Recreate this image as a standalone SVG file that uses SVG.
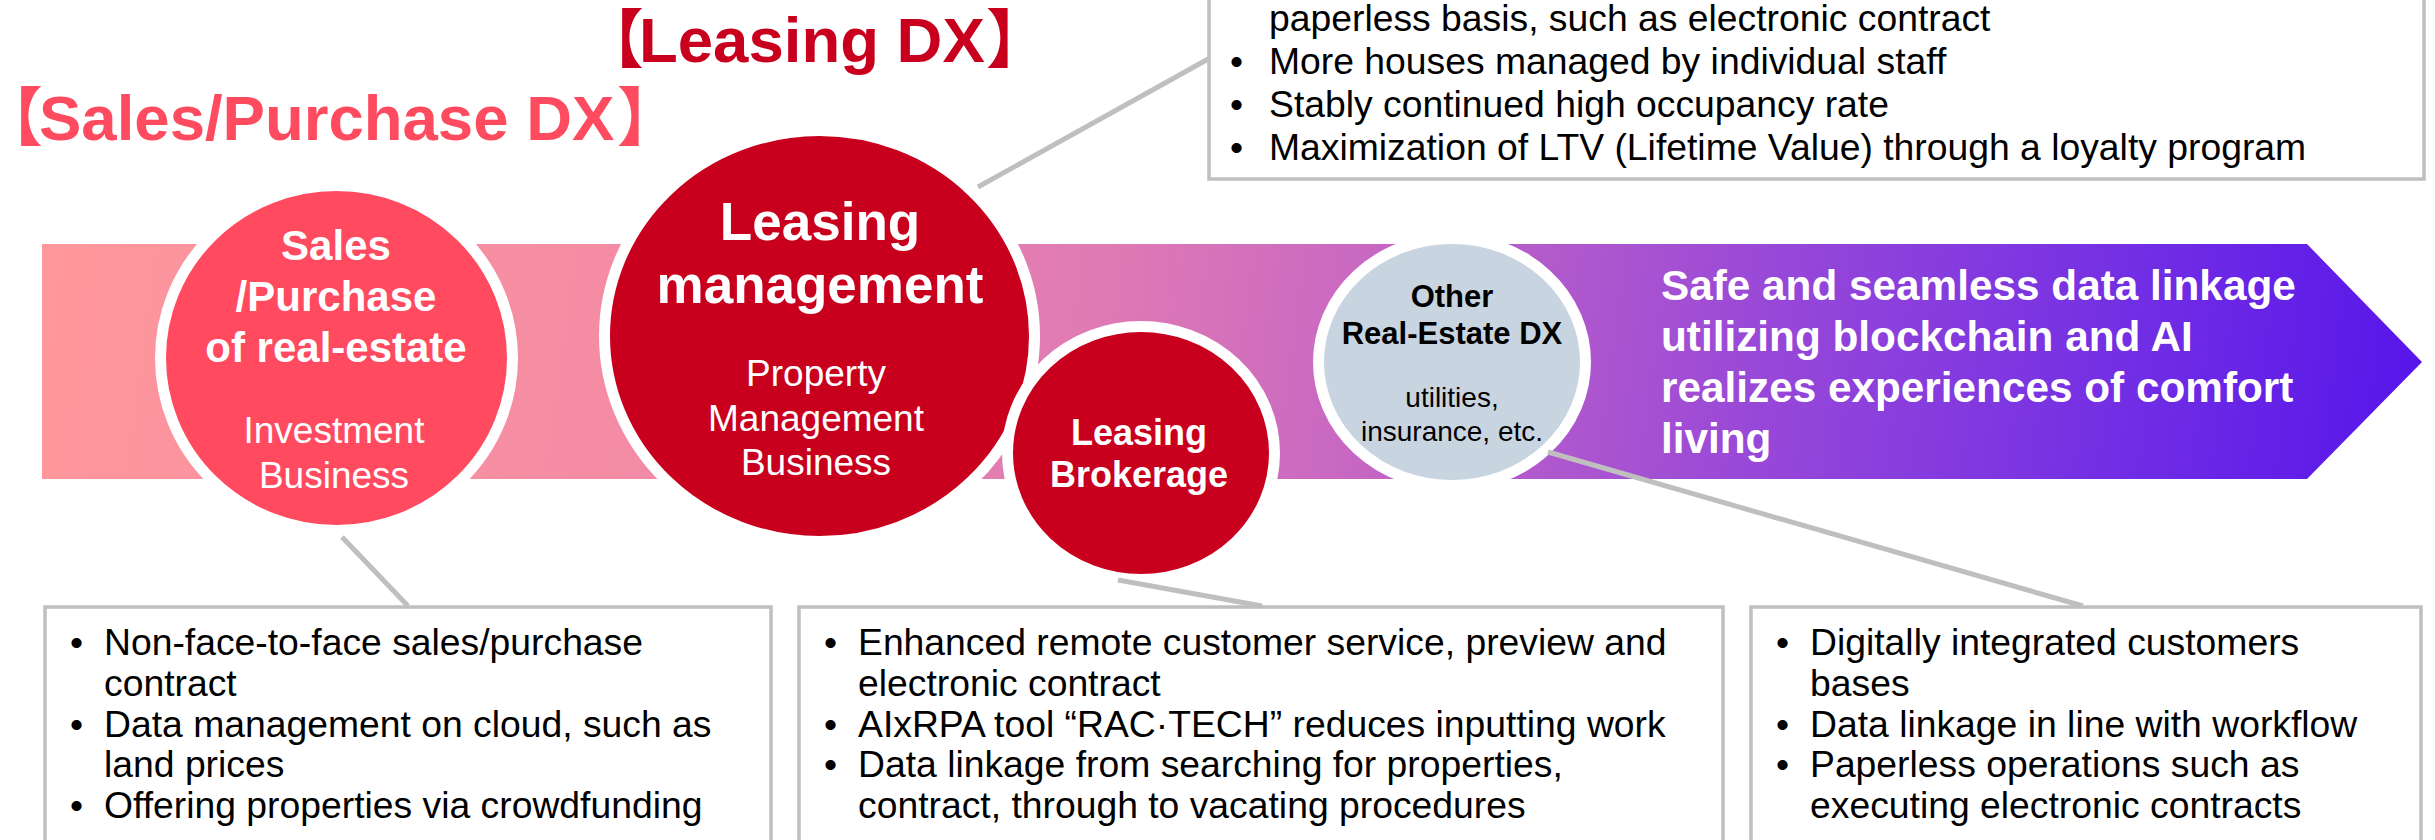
<svg xmlns="http://www.w3.org/2000/svg" width="2435" height="840" viewBox="0 0 2435 840">
  <style>
    .t { font-family: "Liberation Sans", Arial, "Noto Sans CJK JP", sans-serif; }
    .b { font-weight: bold; }
    .w { fill: #ffffff; }
    .k { fill: #000000; }
    .mid { text-anchor: middle; }
    .half { font-feature-settings: "halt" 1; }
    .box { fill: #ffffff; stroke: #BFBFBF; stroke-width: 3.5; }
    .bul { font-size: 37.3px; fill: #000000; }
    .conn { stroke: #BFBFBF; stroke-width: 5; fill: none; }
    .ring { stroke: #ffffff; stroke-width: 11; }
  </style>
  <defs>
    <linearGradient id="bandGrad" gradientUnits="userSpaceOnUse" x1="42" y1="200" x2="2422" y2="520">
      <stop offset="0" stop-color="#FF979B"/>
      <stop offset="0.25" stop-color="#F38CA4"/>
      <stop offset="0.45" stop-color="#DE79B5"/>
      <stop offset="0.55" stop-color="#C868C2"/>
      <stop offset="0.72" stop-color="#9848D8"/>
      <stop offset="0.87" stop-color="#722EE4"/>
      <stop offset="1" stop-color="#5514EA"/>
    </linearGradient>
  </defs>

  <rect width="2435" height="840" fill="#ffffff"/>

  <!-- section headings (brackets set half-width) -->
  <g id="title-leasing-dx">
    <text class="t b" font-size="63.5" fill="#C8001E" y="62"><tspan class="half" x="612">【</tspan><tspan x="639">Leasing DX</tspan><tspan class="half" x="986">】</tspan></text>
  </g>
  <g id="title-sales-dx">
    <text class="t b" font-size="63.5" fill="#FF4B5F" y="140"><tspan class="half" x="11">【</tspan><tspan x="39">Sales/Purchase DX</tspan><tspan class="half" x="617">】</tspan></text>
  </g>

  <!-- value chain band -->
  <g id="band">
    <polygon points="42,244 2307,244 2422,362 2307,479 42,479" fill="url(#bandGrad)"/>
    <text class="t b w" font-size="42.3" x="1661" y="300">Safe and seamless data linkage</text>
    <text class="t b w" font-size="42.3" x="1661" y="351">utilizing blockchain and AI</text>
    <text class="t b w" font-size="42.3" x="1661" y="402">realizes experiences of comfort</text>
    <text class="t b w" font-size="42.3" x="1661" y="453">living</text>
  </g>

  <!-- business nodes -->
  <g id="node-sales">
    <ellipse class="ring" cx="336.5" cy="358" rx="176" ry="172.5" fill="#FF4A5F"/>
    <text class="t b w mid" font-size="42" x="336" y="260">Sales</text>
    <text class="t b w mid" font-size="42" x="336" y="311">/Purchase</text>
    <text class="t b w mid" font-size="42" x="336" y="362">of real-estate</text>
    <text class="t w mid" font-size="37" x="334" y="443">Investment</text>
    <text class="t w mid" font-size="37" x="334" y="488">Business</text>
  </g>

  <g id="node-leasing-management">
    <ellipse class="ring" cx="819.5" cy="336" rx="215" ry="205.5" fill="#C8001E"/>
    <text class="t b w mid" font-size="53" x="820" y="240">Leasing</text>
    <text class="t b w mid" font-size="53" x="820" y="303">management</text>
    <text class="t w mid" font-size="37" x="816" y="386">Property</text>
    <text class="t w mid" font-size="37" x="816" y="431">Management</text>
    <text class="t w mid" font-size="37" x="816" y="475">Business</text>
  </g>

  <g id="node-leasing-brokerage">
    <ellipse class="ring" cx="1141" cy="453" rx="133.5" ry="126.5" fill="#C8001E"/>
    <text class="t b w mid" font-size="36" x="1139" y="445">Leasing</text>
    <text class="t b w mid" font-size="36" x="1139" y="487">Brokerage</text>
  </g>

  <g id="node-other-dx">
    <ellipse class="ring" cx="1452" cy="362" rx="133.5" ry="123.5" fill="#C8D4E0"/>
    <text class="t b k mid" font-size="31" x="1452" y="307">Other</text>
    <text class="t b k mid" font-size="31" x="1452" y="344">Real-Estate DX</text>
    <text class="t k mid" font-size="28" x="1452" y="407">utilities,</text>
    <text class="t k mid" font-size="28" x="1452" y="441">insurance, etc.</text>
  </g>

  <!-- callout leader lines -->
  <g id="connectors">
    <line class="conn" x1="978" y1="187" x2="1210" y2="58"/>
    <line class="conn" x1="342" y1="537" x2="408" y2="606"/>
    <line class="conn" x1="1118" y1="580" x2="1262" y2="606"/>
    <line class="conn" x1="1548" y1="452" x2="2083" y2="606"/>
  </g>

  <!-- detail boxes -->
  <g id="box-leasing-management">
    <rect class="box" x="1209" y="-40" width="1215" height="219"/>
    <text class="t bul" x="1269" y="31">paperless basis, such as electronic contract</text>
    <text class="t bul" y="74"><tspan x="1230">•</tspan><tspan x="1269">More houses managed by individual staff</tspan></text>
    <text class="t bul" y="117"><tspan x="1230">•</tspan><tspan x="1269">Stably continued high occupancy rate</tspan></text>
    <text class="t bul" y="160"><tspan x="1230">•</tspan><tspan x="1269">Maximization of LTV (Lifetime Value) through a loyalty program</tspan></text>
  </g>

  <g id="box-sales">
    <rect class="box" x="45" y="607" width="726" height="260"/>
    <text class="t bul" y="655"><tspan x="70">•</tspan><tspan x="104">Non-face-to-face sales/purchase</tspan></text>
    <text class="t bul" x="104" y="696">contract</text>
    <text class="t bul" y="736.5"><tspan x="70">•</tspan><tspan x="104">Data management on cloud, such as</tspan></text>
    <text class="t bul" x="104" y="777">land prices</text>
    <text class="t bul" y="817.5"><tspan x="70">•</tspan><tspan x="104">Offering properties via crowdfunding</tspan></text>
  </g>

  <g id="box-leasing-brokerage">
    <rect class="box" x="799" y="607" width="924" height="260"/>
    <text class="t bul" y="655"><tspan x="824">•</tspan><tspan x="858">Enhanced remote customer service, preview and</tspan></text>
    <text class="t bul" x="858" y="696">electronic contract</text>
    <text class="t bul" y="736.5"><tspan x="824">•</tspan><tspan x="858">AIxRPA tool “RAC·TECH” reduces inputting work</tspan></text>
    <text class="t bul" y="777"><tspan x="824">•</tspan><tspan x="858">Data linkage from searching for properties,</tspan></text>
    <text class="t bul" x="858" y="817.5">contract, through to vacating procedures</text>
  </g>

  <g id="box-other-dx">
    <rect class="box" x="1751" y="607" width="670" height="260"/>
    <text class="t bul" y="655"><tspan x="1776">•</tspan><tspan x="1810">Digitally integrated customers</tspan></text>
    <text class="t bul" x="1810" y="696">bases</text>
    <text class="t bul" y="736.5"><tspan x="1776">•</tspan><tspan x="1810">Data linkage in line with workflow</tspan></text>
    <text class="t bul" y="777"><tspan x="1776">•</tspan><tspan x="1810">Paperless operations such as</tspan></text>
    <text class="t bul" x="1810" y="817.5">executing electronic contracts</text>
  </g>
</svg>
